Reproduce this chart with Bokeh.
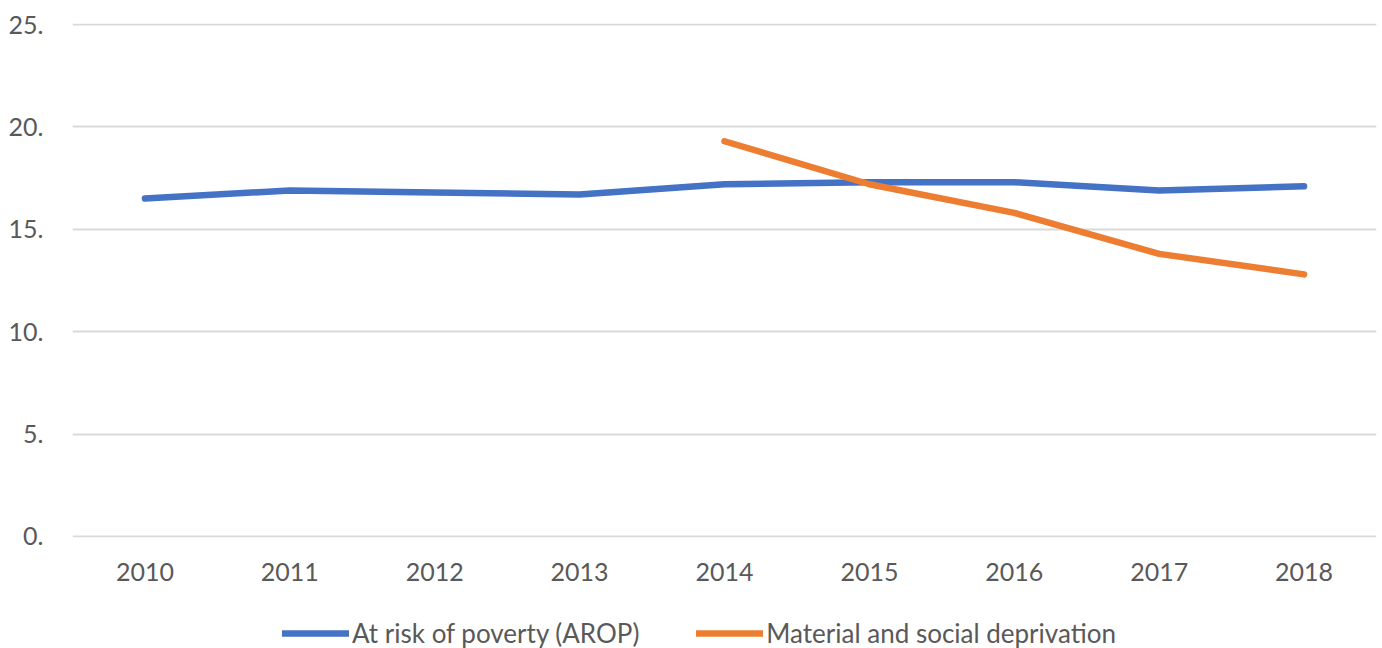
from bokeh.plotting import figure
from bokeh.layouts import column
from bokeh.models import FactorRange, Range1d, FixedTicker, PrintfTickFormatter, Legend, LegendItem
from bokeh.embed import file_html
from bokeh.resources import INLINE

years = ["2010", "2011", "2012", "2013", "2014", "2015", "2016", "2017", "2018"]
arop = [16.5, 16.9, 16.8, 16.7, 17.2, 17.3, 17.3, 16.9, 17.1]
msd_years = ["2014", "2015", "2016", "2017", "2018"]
msd = [19.3, 17.2, 15.8, 13.8, 12.8]
y_ticks = [0, 5, 10, 15, 20, 25]
series_names = ["At risk of poverty (AROP)", "Material and social deprivation"]
series_colors = ["#4472C4", "#ED7D31"]

FONT = "Lato"
TXT = "#595959"
LW = 6.5

p = figure(width=1382, height=600, x_range=FactorRange(*years, range_padding=0),
           y_range=Range1d(-0.05, 25.05), output_backend="svg", toolbar_location=None,
           min_border_left=72, min_border_right=6, min_border_top=23, min_border_bottom=63)

p.outline_line_color = None
p.background_fill_color = "white"
p.border_fill_color = "white"
p.xgrid.grid_line_color = None
p.ygrid.grid_line_color = "#d9d9d9"
p.ygrid.grid_line_width = 2

p.yaxis.ticker = FixedTicker(ticks=y_ticks)
p.yaxis.formatter = PrintfTickFormatter(format="%d.")
for ax in (p.xaxis[0], p.yaxis[0]):
    ax.axis_line_color = None
    ax.major_tick_line_color = None
    ax.minor_tick_line_color = None
    ax.major_label_text_font = FONT
    ax.major_label_text_font_size = "25px"
    ax.major_label_text_color = TXT
p.yaxis.major_label_standoff = 23
p.xaxis.major_label_standoff = 19

p.line(years, arop, line_color=series_colors[0], line_width=LW, line_cap="round", line_join="round")
p.line(msd_years, msd, line_color=series_colors[1], line_width=LW, line_cap="round", line_join="round")

# legend strip below the chart (its sample lines use the series data, kept outside the strip's view)
lg = figure(width=1382, height=48, x_range=Range1d(0, 1), y_range=Range1d(0, 1),
            x_axis_location=None, y_axis_location=None,
            output_backend="svg", toolbar_location=None,
            min_border_left=0, min_border_right=0, min_border_top=0, min_border_bottom=0)
lg.grid.visible = False
lg.outline_line_color = None
lg.border_fill_color = "white"
items = []
for name, col, vals in zip(series_names, series_colors, [arop, msd]):
    r = lg.line(x=list(range(len(vals))), y=vals, line_color=col, line_width=LW, line_cap="round")
    items.append(LegendItem(label=name, renderers=[r]))
legend = Legend(items=items, orientation="horizontal", location=(210, -1),
                glyph_width=67, glyph_height=20, label_standoff=3, spacing=57,
                padding=0, margin=0, border_line_color=None, background_fill_alpha=0,
                label_text_font=FONT, label_text_font_size="26px", label_text_color=TXT)
lg.add_layout(legend, "center")

layout = column(p, lg, spacing=0)
open("out.html", "w").write(file_html(layout, INLINE))
